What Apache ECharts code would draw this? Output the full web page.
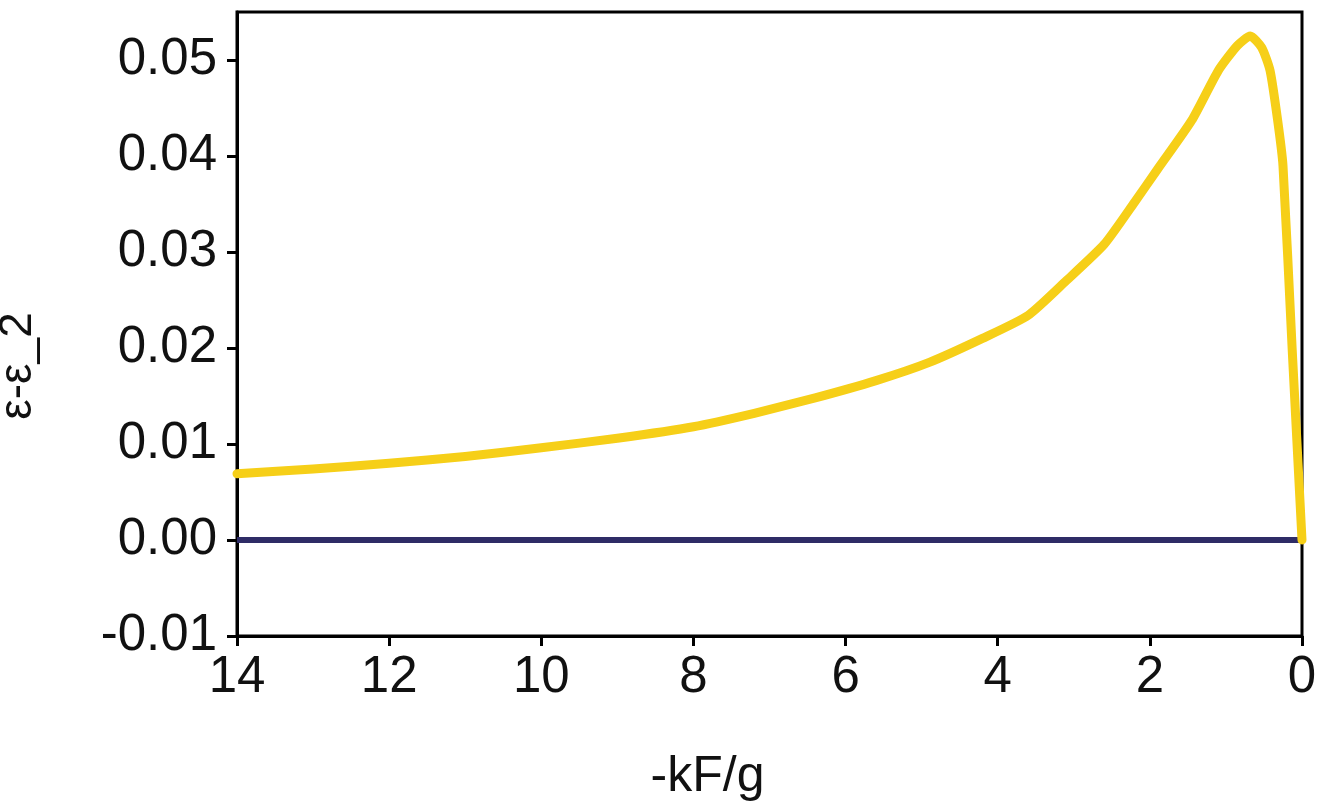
<!DOCTYPE html>
<html>
<head>
<meta charset="utf-8">
<script src="https://cdn.jsdelivr.net/npm/echarts@6/dist/echarts.min.js"></script>
<style>
html,body{margin:0;padding:0;background:#fff;}
#chart{width:1317px;height:806px;}
</style>
</head>
<body>
<div id="chart"></div>
<script>
// -kF/g values (x) and epsilon - epsilon_2 values (y)
const kfValues = [14, 13, 12, 11, 10, 9, 8, 7.2, 6.4, 5.6, 4.9, 4.2, 3.6, 3.1, 2.6, 2.2, 1.9, 1.45, 1.1, 0.85, 0.68, 0.53, 0.42, 0.32, 0.25, 0.13, 0];
const epsDiff  = [0.0069, 0.0074, 0.0080, 0.0087, 0.0096, 0.0106, 0.0118, 0.0132, 0.0148, 0.0166, 0.0185, 0.0210, 0.0234, 0.0270, 0.0308, 0.0352, 0.0386, 0.0437, 0.0489, 0.0515, 0.0525, 0.0513, 0.0489, 0.0437, 0.0390, 0.0200, 0.0000];
const baseX = [14, 0];
const baseY = [0, 0];
const xTicks = [14, 12, 10, 8, 6, 4, 2, 0];
const yTicks = [-0.01, 0.00, 0.01, 0.02, 0.03, 0.04, 0.05];

const font = "'Liberation Sans', Arial, sans-serif";
const chart = echarts.init(document.getElementById('chart'), null, {renderer: 'canvas'});
chart.setOption({
  animation: false,
  backgroundColor: '#fff',
  grid: {left: 237, right: 15, top: 12, bottom: 170, show: true, borderColor: '#000', borderWidth: 3,
         backgroundColor: 'transparent', containLabel: false, outerBoundsMode: 'none'},
  xAxis: {
    type: 'value', inverse: true, min: 0, max: 14, interval: 2,
    name: '-kF/g', nameLocation: 'middle', nameGap: 116,
    nameTextStyle: {fontFamily: font, fontSize: 50, color: '#111', padding: [0, 124, 0, 0]},
    axisLine: {show: true, onZero: false, lineStyle: {color: '#000', width: 3}},
    axisTick: {show: true, inside: false, length: 10, lineStyle: {color: '#000', width: 3}, customValues: xTicks},
    axisLabel: {fontFamily: font, fontSize: 51, color: '#111', margin: 16, customValues: xTicks},
    splitLine: {show: false}
  },
  yAxis: {
    type: 'value', min: -0.01, max: 0.055, interval: 0.01,
    name: 'ε-ε_2', nameLocation: 'middle', nameGap: 196, nameRotate: 90,
    nameTextStyle: {fontFamily: font, fontSize: 46, color: '#111', padding: [0, 84, 0, 0]},
    axisLine: {show: true, onZero: false, lineStyle: {color: '#000', width: 3}},
    axisTick: {show: true, inside: false, length: 10, lineStyle: {color: '#000', width: 3}, customValues: yTicks},
    axisLabel: {fontFamily: font, fontSize: 51, color: '#111', margin: 20, customValues: yTicks,
      formatter: v => Number(v).toFixed(2)},
    splitLine: {show: false}
  },
  series: [
    {
      type: 'line', data: baseX.map((x, i) => [x, baseY[i]]), showSymbol: false,
      lineStyle: {color: '#2e2c66', width: 6}, z: 2
    },
    {
      type: 'line', data: kfValues.map((x, i) => [x, epsDiff[i]]), showSymbol: false, smooth: 0.2,
      lineStyle: {color: '#f6cf18', width: 9, cap: 'round', join: 'round'}, z: 3
    }
  ]
});
</script>
</body>
</html>
